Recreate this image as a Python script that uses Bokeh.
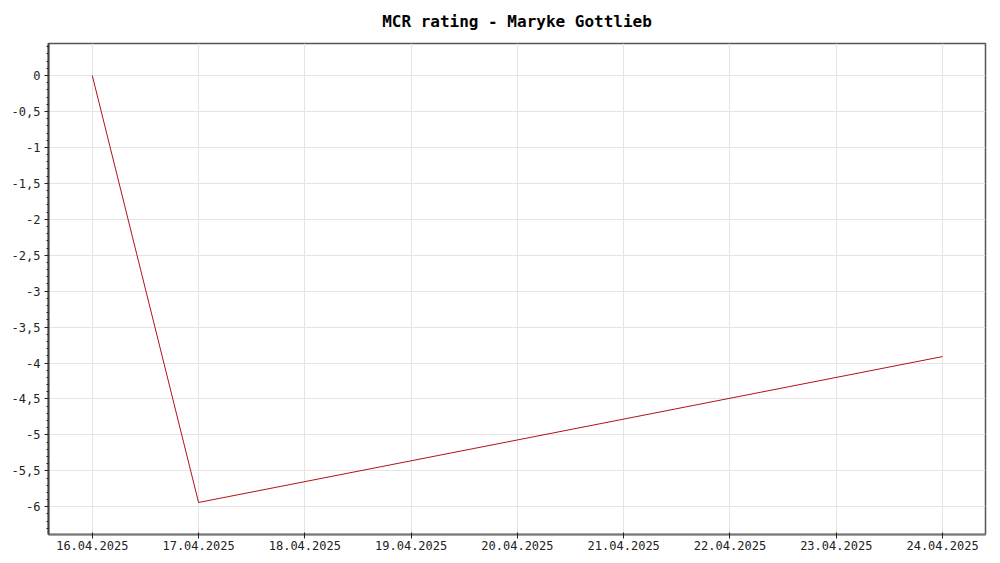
import pandas as pd
from bokeh.plotting import figure
from bokeh.models import (Range1d, SingleIntervalTicker, DaysTicker, DatetimeTickFormatter,
                          CustomJSTickFormatter)
from bokeh.embed import file_html
from bokeh.resources import INLINE

title_text = "MCR rating - Maryke Gottlieb"
dates = ["2025-04-16", "2025-04-17", "2025-04-24"]
ratings = [0.0, -5.94, -3.91]

x = pd.to_datetime(dates)
xspan = x.max() - x.min()
ymin, ymax = min(ratings), max(ratings)
yspan = ymax - ymin

FONT = "DejaVu Sans Mono"

p = figure(width=992, height=555, output_backend="svg", toolbar_location=None,
           x_axis_type="datetime",
           x_range=Range1d(x.min() - xspan * 0.0515, x.max() + xspan * 0.0505),
           y_range=Range1d(ymin - yspan * 0.075, ymax + yspan * 0.075),
           min_border_left=48, min_border_right=7, min_border_top=43, min_border_bottom=21)

p.title.text = title_text
p.title.align = "center"
p.title.vertical_align = "top"
p.title.text_font = FONT
p.title.text_font_size = "16px"
p.title.text_font_style = "bold"
p.title.text_color = "#000000"
p.title.standoff = 22

p.line(x, ratings, line_color="#b01414", line_width=1)

p.outline_line_color = "#555555"
p.outline_line_width = 1.5
p.background_fill_color = "white"
p.border_fill_color = "white"

p.xgrid.grid_line_color = "#e4e4e4"
p.ygrid.grid_line_color = "#e4e4e4"
p.xgrid.grid_line_width = 1
p.ygrid.grid_line_width = 1

xa = p.xaxis[0]
xa.ticker = DaysTicker(days=list(range(1, 32)))
fmt = "%d.%m.%Y"
xa.formatter = DatetimeTickFormatter(days=fmt, months=fmt, years=fmt, hours=fmt,
                                     hourmin=fmt, minutes=fmt, minsec=fmt, seconds=fmt,
                                     milliseconds=fmt, microseconds=fmt, context=None)
xa.axis_line_color = "#777777"
xa.axis_line_width = 2
xa.major_tick_out = 4
xa.major_tick_in = 2
xa.major_tick_line_color = "#222222"
xa.minor_tick_out = 0
xa.minor_tick_in = 0
xa.major_label_text_font = FONT
xa.major_label_text_font_size = "12px"
xa.major_label_text_color = "#222222"
xa.major_label_standoff = 2

ya = p.yaxis[0]
ya.ticker = SingleIntervalTicker(interval=0.5, num_minor_ticks=5)
ya.formatter = CustomJSTickFormatter(code="return (Math.round(tick*10)/10).toString().replace('.', ',');")
ya.axis_line_color = "#444444"
ya.axis_line_width = 2
ya.major_tick_out = 4
ya.major_tick_in = 0
ya.minor_tick_out = 2
ya.minor_tick_in = 0
ya.major_tick_line_color = "#222222"
ya.minor_tick_line_color = "#222222"
ya.major_label_text_font = FONT
ya.major_label_text_font_size = "12px"
ya.major_label_text_color = "#222222"
ya.major_label_standoff = 4

open("out.html", "w").write(file_html(p, INLINE))
